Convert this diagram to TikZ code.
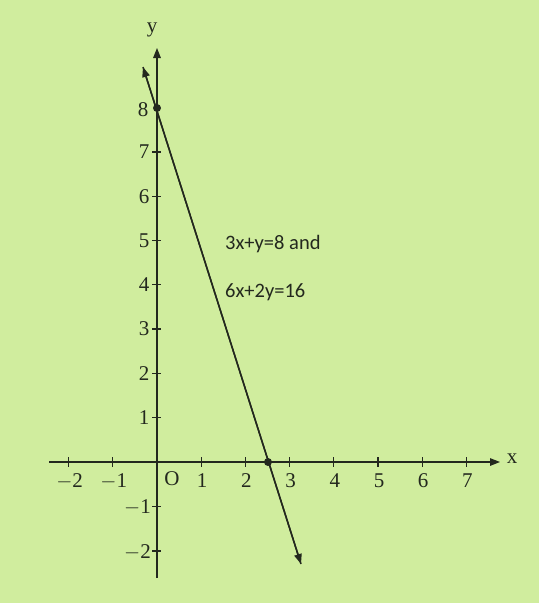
\documentclass[tikz,border=0pt]{standalone}
\usepackage{fontspec}
\setmainfont{Liberation Serif}
\newfontfamily\labfont{Carlito}
\usetikzlibrary{arrows.meta}
\definecolor{bg}{RGB}{208,237,158}
\definecolor{ink}{RGB}{35,40,30}
\tikzset{
  axis/.style={draw=ink, line width=1.4pt},
  tick/.style={draw=ink, line width=1.3pt},
  num/.style={text=ink, font=\fontsize{21}{21}\selectfont, inner sep=0pt},
  lab/.style={text=ink, font=\labfont\fontsize{20.5}{20.5}\selectfont, inner sep=0pt, anchor=west},
  dot/.style={circle, fill=ink, inner sep=0pt, minimum size=8pt},
  tip/.style={-{Triangle[length=10pt,width=7.5pt]}}
}
\begin{document}
\begin{tikzpicture}[x=1pt,y=-1pt]
\fill[bg] (0,0) rectangle (539,603);
\useasboundingbox (0,0) rectangle (539,603);
% axes
\coordinate (xl) at (49,462);
\coordinate (xr) at (500,462);
\coordinate (yb) at (157,578);
\coordinate (yt) at (157,48);
\draw[axis,tip] (xl) -- (xr);
\draw[axis,tip] (yb) -- (yt);
\node[num] (xlab) at (512,459) {x};
\node[num] (ylab) at (152,30) {y};
% x ticks
\foreach \i/\t in {-2/{$-$2},-1/{$-$1},1/1,2/2,3/3,4/4,5/5,6/6,7/7}{
  \draw[tick] ({157+44.2*\i},457) -- ({157+44.2*\i},467);
  \node[num] (xn\i) at ({157+44.2*\i+1},481) {\t};
}
\node[num] (o) at (172,479) {O};
% y ticks
\foreach \j in {1,...,7}{
  \draw[tick] (152,{462-44.3*\j}) -- (161,{462-44.3*\j});
  \node[num] (yn\j) at (144,{462-44.3*\j}) {\j};
}
\node[num] (yn8) at (143,110) {8};
\foreach \j/\t in {1/{$-$1},2/{$-$2}}{
  \draw[tick] (152,{462+44.5*\j}) -- (161,{462+44.5*\j});
  \node[num, anchor=east] (ynm\j) at (151,{462+44.5*\j+1}) {\t};
}
% line 3x+y=8
\node[dot] (p8) at (157,108) {};
\node[dot] (pq) at (268,462) {};
\coordinate (lt) at (143,67);
\coordinate (lb) at (301,564);
\draw[axis, line width=1.5pt, tip] (lb) -- (lt);
\draw[axis, line width=1.5pt, tip] (lt) -- (lb);
% labels
\node[lab] (l1) at (225,244) {3x+y=8 and};
\node[lab] (l2) at (225,292) {6x+2y=16};
\end{tikzpicture}
\end{document}
